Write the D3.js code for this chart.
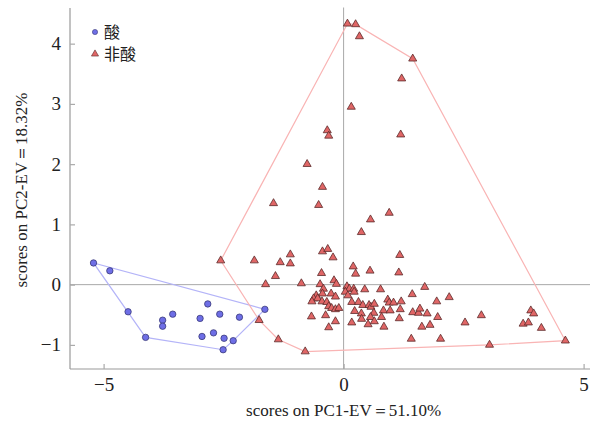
<!DOCTYPE html>
<html lang="zh">
<head>
<meta charset="utf-8">
<title>PCA scores</title>
<script src="https://d3js.org/d3.v7.min.js"></script>
<style>
  body { margin: 0; background: #fff; }
</style>
</head>
<body>
<div id="chart"></div>
<script>
// group 酸 (acid)
var acidPC1 = [-5.21, -4.87, -4.49, -4.125, -3.77, -3.77, -3.56, -2.99, -2.83, -2.58, -2.17, -1.64, -2.95, -2.71, -2.49, -2.30, -2.51];
var acidPC2 = [0.36, 0.23, -0.45, -0.875, -0.59, -0.69, -0.49, -0.56, -0.32, -0.49, -0.54, -0.41, -0.86, -0.80, -0.89, -0.93, -1.08];

// group 非酸 (non-acid)
var nonPC1 = [0.08, 0.25, 0.33, 1.44, 1.21, 0.16, -0.34, -0.31, 1.19, -0.76, -0.44, -1.46, -0.52, 0.95, 0.56, 0.37,
  -2.56, -1.86, -1.11, -1.32, -1.11, -1.42, -1.625, -0.88, -0.44, -0.33, -0.22, -0.46, -0.20, -0.15, -0.49, -0.42,
  -0.44, -0.26, -0.57, -0.625, -0.54, -0.66, -0.17, -0.45, -0.35, -0.31, -0.25, -0.17, -0.10, -0.67, -0.375, -0.17,
  -0.31, -1.76, -1.36, -0.80,
  0.07, 0.12, 0.21, 0.22, 0.035, 0.09, 0.44, 0.77, 0.20, 0.25, 0.55, 1.17, 1.15, 1.43, 1.69, 1.94, 0.17, 0.31, 0.40,
  0.53, 0.57, 0.64, 0.92, 0.95, 1.04, 1.20, 0.23, 0.37, 0.63, 0.83, 0.97, 1.18, 1.44, 1.56, 1.59, 1.74, 1.96, 0.375,
  0.56, 0.79, 1.16, 0.17, 0.51, 0.64, 0.84, 1.63, 1.80, 1.41,
  2.20, 2.02, 2.53, 2.87, 3.04, 3.74, 3.85, 3.90, 3.96, 4.12, 4.62];
var nonPC2 = [4.33, 4.32, 4.12, 3.75, 3.42, 2.95, 2.56, 2.47, 2.49, 2.0, 1.62, 1.35, 1.32, 1.19, 1.08, 0.87,
  0.40, 0.40, 0.50, 0.37, 0.35, 0.14, 0.005, 0.02, 0.55, 0.59, 0.45, 0.19, 0.07, 0.01, 0.005, -0.07,
  -0.15, -0.15, -0.18, -0.23, -0.23, -0.28, -0.20, -0.28, -0.29, -0.36, -0.39, -0.41, -0.39, -0.53, -0.51, -0.61,
  -0.71, -0.59, -0.91, -1.11,
  -0.03, -0.07, -0.07, -0.12, -0.12, -0.18, -0.08, -0.08, 0.30, 0.18, 0.23, 0.49, 0.20, -0.16, -0.04, -0.28, -0.29, -0.29, -0.34,
  -0.34, -0.37, -0.32, -0.25, -0.30, -0.30, -0.28, -0.44, -0.48, -0.47, -0.43, -0.43, -0.41, -0.46, -0.47, -0.40, -0.48, -0.54, -0.57,
  -0.54, -0.54, -0.56, -0.63, -0.66, -0.61, -0.70, -0.70, -0.67, -0.90,
  -0.21, -0.90, -0.63, -0.51, -1.0, -0.65, -0.63, -0.43, -0.48, -0.72, -0.93];

var xTicks = [-5, 0, 5];
var yTicks = [-1, 0, 1, 2, 3, 4];
var legendLabels = ["酸", "非酸"];

var width = 594, height = 423;
var serif = "'Liberation Serif', 'DejaVu Serif', serif";

var svg = d3.select("#chart").append("svg")
  .attr("width", width)
  .attr("height", height);

var x = d3.scaleLinear().domain([-5.7, 5.2]).range([70, 593.2]);
var y = d3.scaleLinear().domain([-1.4, 4.6]).range([369, 7.5]);

var acid = acidPC1.map(function(v, i) { return [v, acidPC2[i]]; });
var non = nonPC1.map(function(v, i) { return [v, nonPC2[i]]; });

// zero lines
svg.append("line")
  .attr("x1", x(0)).attr("x2", x(0))
  .attr("y1", y(4.6)).attr("y2", y(-1.4))
  .attr("stroke", "#a8a8a8").attr("stroke-width", 1);
svg.append("line")
  .attr("x1", x(-5.7)).attr("x2", 590)
  .attr("y1", y(0)).attr("y2", y(0))
  .attr("stroke", "#a8a8a8").attr("stroke-width", 1);

// hulls
function hullPath(pts) {
  var h = d3.polygonHull(pts.map(function(p) { return [x(p[0]), y(p[1])]; }));
  return "M" + h.join("L") + "Z";
}
svg.append("path").attr("d", hullPath(acid))
  .attr("fill", "none").attr("stroke", "#b4b4f8").attr("stroke-width", 1.2);
svg.append("path").attr("d", hullPath(non))
  .attr("fill", "none").attr("stroke", "#f9b4b4").attr("stroke-width", 1.2);

// axes
var fmt = d3.format("d");
var xAxis = svg.append("g")
  .attr("transform", "translate(0," + y(-1.4) + ")")
  .call(d3.axisBottom(x).tickValues(xTicks).tickFormat(fmt).tickSize(-5).tickPadding(9));
var yAxis = svg.append("g")
  .attr("transform", "translate(" + x(-5.7) + ",0)")
  .call(d3.axisLeft(y).tickValues(yTicks).tickFormat(fmt).tickSize(-5).tickPadding(9));
[xAxis, yAxis].forEach(function(g) {
  g.attr("font-family", serif).attr("font-size", 19);
  g.select(".domain").attr("stroke", "#999").attr("stroke-width", 1.2);
  g.selectAll(".tick line").attr("stroke", "#aaa").attr("stroke-width", 1.2);
  g.selectAll(".tick text").attr("fill", "#222").attr("font-family", serif);
});
xAxis.select(".domain").attr("d", "M70,0H590");
yAxis.select(".domain").attr("d", "M0," + y(-1.4) + "V8");

// points
var tri = d3.symbol().type(d3.symbolTriangle).size(28);

svg.append("g").selectAll("path")
  .data(non)
  .join("path")
  .attr("d", tri)
  .attr("transform", function(d) { return "translate(" + x(d[0]) + "," + y(d[1]) + ")"; })
  .attr("fill", "#e06666")
  .attr("stroke", "#5a2a2a")
  .attr("stroke-width", 0.8);

svg.append("g").selectAll("circle")
  .data(acid)
  .join("circle")
  .attr("cx", function(d) { return x(d[0]); })
  .attr("cy", function(d) { return y(d[1]); })
  .attr("r", 3.2)
  .attr("fill", "#6e6ee6")
  .attr("stroke", "#3a3a7a")
  .attr("stroke-width", 0.8);

// legend
var leg = svg.append("g");
leg.append("circle").attr("cx", 95).attr("cy", 32).attr("r", 2.6)
  .attr("fill", "#6e6ee6").attr("stroke", "#3a3a7a").attr("stroke-width", 0.6);
leg.append("path").attr("d", d3.symbol().type(d3.symbolTriangle).size(22))
  .attr("transform", "translate(95,54)")
  .attr("fill", "#e06666").attr("stroke", "#5a2a2a").attr("stroke-width", 0.6);
leg.selectAll("text")
  .data(legendLabels)
  .join("text")
  .attr("x", 104)
  .attr("y", function(d, i) { return 32 + i * 22; })
  .attr("dy", "0.36em")
  .attr("font-family", "'Noto Sans CJK SC', sans-serif")
  .attr("font-size", 16)
  .attr("fill", "#222")
  .text(function(d) { return d; });

// axis titles
svg.append("text")
  .attr("x", x(0)).attr("y", 416)
  .attr("text-anchor", "middle")
  .attr("font-family", serif)
  .attr("font-size", 17)
  .attr("fill", "#222")
  .text("scores on PC1-EV＝51.10%");
svg.append("text")
  .attr("transform", "translate(27,190) rotate(-90)")
  .attr("text-anchor", "middle")
  .attr("font-family", serif)
  .attr("font-size", 17)
  .attr("fill", "#222")
  .text("scores on PC2-EV＝18.32%");
</script>
</body>
</html>
